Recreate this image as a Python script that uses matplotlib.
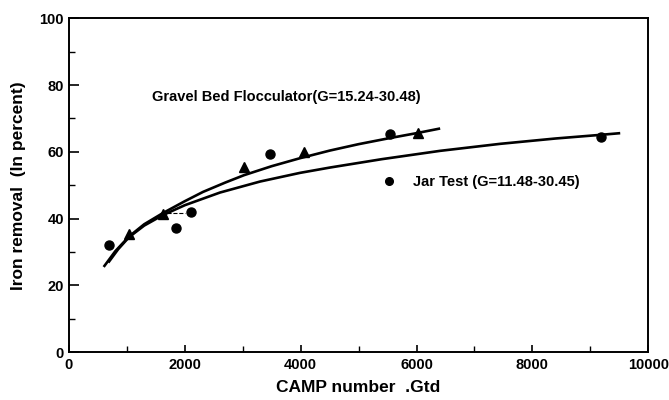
import matplotlib
matplotlib.use('Agg')
import matplotlib.pyplot as plt
from matplotlib.ticker import MultipleLocator

plt.rcParams['font.family'] = ['Liberation Sans', 'DejaVu Sans']
plt.rcParams['font.weight'] = 'bold'
plt.rcParams['axes.labelweight'] = 'bold'

jar_x = [700, 1850, 2100, 3470, 5550, 9180]
jar_y = [32.0, 37.1, 42.0, 59.3, 65.3, 64.3]

gravel_x = [1040, 1620, 3020, 4050, 6030]
gravel_y = [35.3, 41.3, 55.4, 59.9, 65.6]

# fitted curves
gravel_fit_x = [600, 800, 1036, 1300, 1618, 2000, 2316, 2700, 3022, 3500, 3990, 4508, 5000, 5500, 6000, 6408]
gravel_fit_y = [25.5, 30.2, 34.6, 38.3, 41.6, 45.2, 48.0, 50.8, 53.0, 55.7, 58.1, 60.4, 62.3, 64.0, 65.6, 67.0]

jar_fit_x = [680, 850, 1036, 1300, 1618, 2000, 2608, 3300, 3990, 4508, 5400, 6408, 7444, 8400, 9183, 9516]
jar_fit_y = [26.8, 30.8, 34.4, 37.9, 41.0, 44.0, 47.8, 51.1, 53.7, 55.3, 57.8, 60.3, 62.4, 64.0, 65.1, 65.6]

fig = plt.figure(figsize=(6.69, 4.0), dpi=100)
ax = fig.add_axes([0.103, 0.12, 0.866, 0.834])

ax.plot(gravel_fit_x, gravel_fit_y, color='black', lw=1.9, solid_capstyle='butt')
ax.plot(jar_fit_x, jar_fit_y, color='black', lw=1.9, solid_capstyle='butt')
ax.plot(jar_x, jar_y, 'o', color='black', ms=6.5)
ax.plot(gravel_x, gravel_y, '^', color='black', ms=6.5)

# small dashed connector visible in the scan
ax.plot([1690, 2000], [41.8, 41.8], color='black', lw=0.8, ls='--')

ax.text(1430, 76.5, 'Gravel Bed Flocculator(G=15.24-30.48)', fontsize=10.5,
        va='center', ha='left')
ax.plot([5530], [51.3], 'o', color='black', ms=5.5)
ax.text(5940, 51.0, 'Jar Test (G=11.48-30.45)', fontsize=10.5,
        va='center', ha='left')

ax.set_xlim(0, 10000)
ax.set_ylim(0, 100)
ax.xaxis.set_major_locator(MultipleLocator(2000))
ax.xaxis.set_minor_locator(MultipleLocator(1000))
ax.yaxis.set_major_locator(MultipleLocator(20))
ax.yaxis.set_minor_locator(MultipleLocator(10))
ax.tick_params(which='major', direction='in', length=7, width=1.2, labelsize=10.5)
ax.tick_params(axis='x', which='major', length=5)
ax.tick_params(which='minor', direction='in', length=4, width=1)
ax.tick_params(axis='x', pad=4)
for s in ax.spines.values():
    s.set_linewidth(1.4)

ax.set_xlabel('CAMP number  .Gtd', fontsize=12.5, labelpad=6)
ax.set_ylabel('Iron removal  (In percent)', fontsize=12.5, labelpad=10)

plt.savefig('out.png', dpi=100)
